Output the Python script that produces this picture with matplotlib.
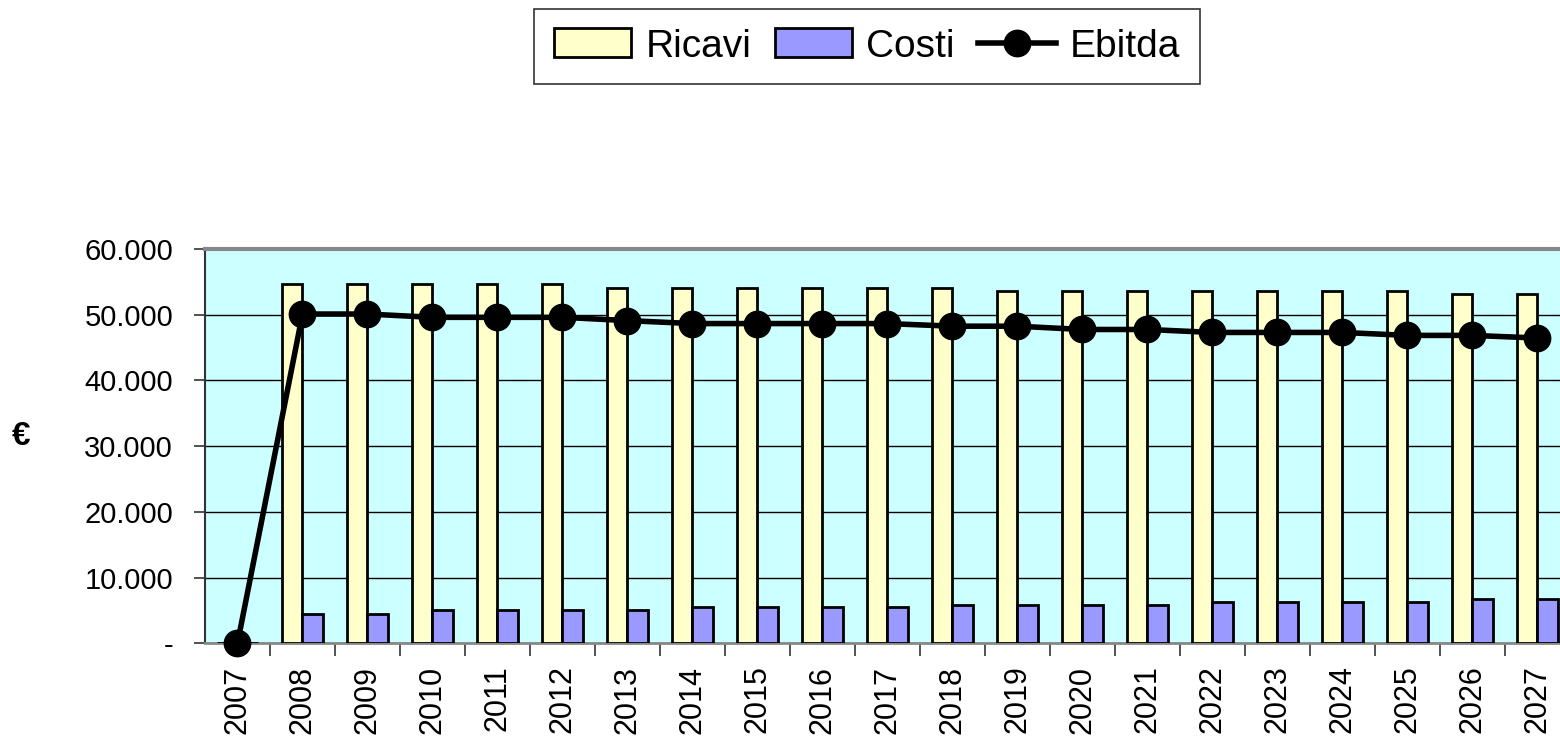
import matplotlib.pyplot as plt
import numpy as np
from matplotlib.ticker import FuncFormatter, FixedLocator

plt.rcParams['font.family'] = ['Liberation Sans', 'DejaVu Sans']

anni = ['2007', '2008', '2009', '2010', '2011', '2012', '2013', '2014', '2015', '2016',
        '2017', '2018', '2019', '2020', '2021', '2022', '2023', '2024', '2025', '2026', '2027']
ricavi = [0, 54600, 54600, 54600, 54600, 54600, 54100, 54100, 54100, 54100,
          54100, 54100, 53600, 53600, 53600, 53600, 53600, 53600, 53600, 53200, 53200]
costi = [0, 4500, 4500, 5000, 5000, 5000, 5000, 5450, 5450, 5450,
         5450, 5850, 5850, 5850, 5850, 6300, 6300, 6300, 6300, 6750, 6750]
ebitda = [0, 50100, 50100, 49600, 49600, 49600, 49100, 48650, 48650, 48650,
          48650, 48250, 48250, 47750, 47750, 47300, 47300, 47300, 46850, 46850, 46450]


def fmt(v, pos):
    if v == 0:
        return '-'
    return '{:,.0f}'.format(v).replace(',', '.')


def plot():
    fig = plt.figure(figsize=(15.6, 7.43), dpi=100)
    ax = fig.add_axes([0.1314, 0.1342, 0.875, 0.5307])
    ax.set_facecolor('#CCFFFF')

    x = np.arange(len(anni))
    w = 0.31
    b1 = ax.bar(x - w / 2, ricavi, w, color='#FFFFCC', edgecolor='black', linewidth=2,
                label='Ricavi', zorder=3)
    b2 = ax.bar(x + w / 2, costi, w, color='#9999FF', edgecolor='black', linewidth=2,
                label='Costi', zorder=3)
    l1, = ax.plot(x, ebitda, color='black', linewidth=4, marker='o', markersize=19,
                  label='Ebitda', zorder=4, clip_on=False)

    ax.set_xlim(-0.5, 20.5)
    ax.set_ylim(0, 60000)
    ax.set_yticks(range(0, 60001, 10000))
    ax.yaxis.set_major_formatter(FuncFormatter(fmt))
    ax.grid(axis='y', color='black', linewidth=1, zorder=1)

    ax.set_xticks(x)
    ax.set_xticklabels(anni, rotation=90, fontsize=22)
    ax.xaxis.set_minor_locator(FixedLocator(x[:-1] + 0.5))
    ax.tick_params(axis='x', which='major', length=0, pad=16)
    ax.tick_params(axis='x', which='minor', length=9, width=1.2, color='#333333')
    ax.tick_params(axis='y', length=8, width=1.2, labelsize=21, pad=15, color='#333333')

    ax.spines['top'].set_color('#888888')
    ax.spines['top'].set_linewidth(3)
    ax.spines['bottom'].set_color('#888888')
    ax.spines['bottom'].set_linewidth(2)
    ax.spines['left'].set_color('#333333')
    ax.spines['left'].set_linewidth(1.5)

    fig.text(0.0135, 0.413, '€', fontsize=24, fontweight='bold', ha='center', va='center')

    leg = fig.legend([b1, b2, l1], ['Ricavi', 'Costi', 'Ebitda'], loc='center',
                     bbox_to_anchor=(0.5558, 0.9374), ncol=3, fontsize=28,
                     frameon=True, fancybox=False, edgecolor='black', handlelength=2.0,
                     handleheight=0.77, columnspacing=0.6, handletextpad=0.36,
                     borderpad=0.5)
    leg.get_frame().set_linewidth(1.2)

    fig.savefig('out.png', dpi=100)


plot()
